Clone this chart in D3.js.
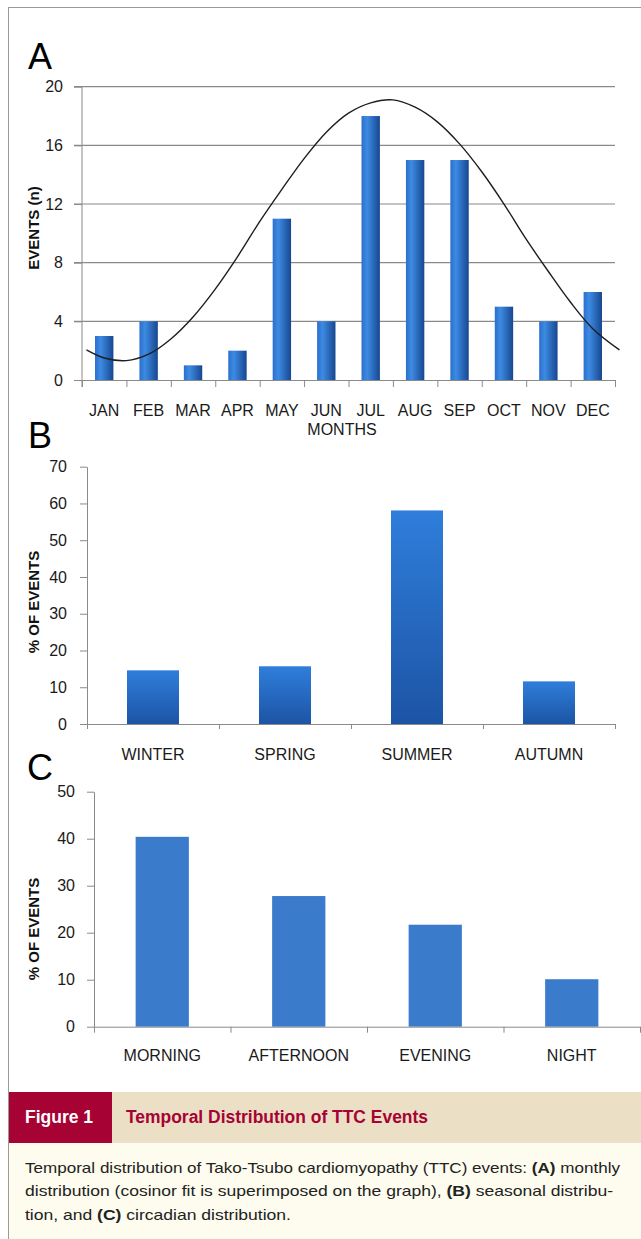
<!DOCTYPE html>
<html>
<head>
<meta charset="utf-8">
<script src="https://cdn.jsdelivr.net/npm/d3@7"></script>
<style>
  html, body { margin: 0; padding: 0; background: #fff; }
  svg { display: block; }
  text { font-family: "Liberation Sans", Arial, sans-serif; }
</style>
</head>
<body>
<svg id="fig" width="641" height="1239"></svg>
<script>
// ---------- DATA ----------
const monthLabels = ["JAN","FEB","MAR","APR","MAY","JUN","JUL","AUG","SEP","OCT","NOV","DEC"];
const monthEvents = [3, 4, 1, 2, 11, 4, 18, 15, 15, 5, 4, 6];
const yTicksA = [0, 4, 8, 12, 16, 20];
// cosinor fit curve (position in months from start of JAN, value)
const fitPos = [0.1, 0.5, 1, 1.5, 2, 2.5, 3, 3.5, 4, 4.5, 5, 5.5, 6, 6.5, 7, 7.5, 8, 8.5, 9, 9.5, 10, 10.5, 11, 11.5, 12.1];
const fitVal = [2.05, 1.5, 1.32, 1.76, 2.8, 4.3, 6.2, 8.4, 10.8, 13.0, 15.1, 16.9, 18.2, 18.9, 19.1, 18.6, 17.6, 16.1, 14.2, 12.0, 9.6, 7.4, 5.3, 3.5, 2.05];

const seasons = ["WINTER", "SPRING", "SUMMER", "AUTUMN"];
const seasonPct = [14.6, 15.7, 58.1, 11.6];
const yTicksB = [0, 10, 20, 30, 40, 50, 60, 70];

const dayParts = ["MORNING", "AFTERNOON", "EVENING", "NIGHT"];
const dayPartPct = [40.4, 27.8, 21.7, 10.1];
const yTicksC = [0, 10, 20, 30, 40, 50];

const captionLines = [
  [["Temporal distribution of Tako-Tsubo cardiomyopathy (TTC) events: ", false], ["(A)", true], [" monthly", false]],
  [["distribution (cosinor fit is superimposed on the graph), ", false], ["(B)", true], [" seasonal distribu-", false]],
  [["tion, and ", false], ["(C)", true], [" circadian distribution.", false]]
];

// ---------- DRAW ----------
const svg = d3.select("#fig");
const defs = svg.append("defs");

const gA = defs.append("linearGradient").attr("id", "gradA").attr("x1", "0").attr("x2", "1").attr("y1", "0").attr("y2", "0");
gA.append("stop").attr("offset", "0%").attr("stop-color", "#2b6fcc");
gA.append("stop").attr("offset", "30%").attr("stop-color", "#3d8be3");
gA.append("stop").attr("offset", "100%").attr("stop-color", "#174790");

const gB = defs.append("linearGradient").attr("id", "gradB").attr("x1", "0").attr("x2", "0").attr("y1", "0").attr("y2", "1");
gB.append("stop").attr("offset", "0%").attr("stop-color", "#2f7edb");
gB.append("stop").attr("offset", "100%").attr("stop-color", "#1c54a5");

// frame
svg.append("line").attr("x1", 8).attr("x2", 641).attr("y1", 7.5).attr("y2", 7.5).attr("stroke", "#9a9a9a");
svg.append("line").attr("x1", 8.5).attr("x2", 8.5).attr("y1", 7).attr("y2", 1239).attr("stroke", "#9a9a9a");

const axisColor = "#8a8a8a";
function styleAxis(g) {
  g.selectAll(".domain").attr("stroke", axisColor);
  g.selectAll(".tick line").attr("stroke", axisColor);
  g.selectAll("text").attr("font-size", 16).attr("fill", "#1a1a1a").attr("font-family", '"Liberation Sans", Arial, sans-serif');
}

// ===== Panel A =====
(function () {
  const L = 82, R = 615, T = 86.7, B = 380;
  const xLin = d3.scaleLinear().domain([0, 12]).range([L, R]);
  const xBand = d3.scaleBand().domain(monthLabels).range([L, R]).paddingInner(0.586).paddingOuter(0.293);
  const y = d3.scaleLinear().domain([0, 20]).range([B, T]);

  // gridlines
  svg.append("g").selectAll("line").data(yTicksA.filter(d => d > 0)).join("line")
    .attr("x1", L - 8).attr("x2", R).attr("y1", d => y(d)).attr("y2", d => y(d))
    .attr("stroke", axisColor).attr("stroke-width", 1.2);

  // y axis
  const ya = svg.append("g").attr("transform", `translate(${L},0)`)
    .call(d3.axisLeft(y).tickValues(yTicksA).tickSize(8).tickPadding(11).tickSizeOuter(0));
  styleAxis(ya);
  ya.select(".domain").attr("d", `M0,${T}V${B + 7}`);

  // bars
  svg.append("g").selectAll("rect").data(monthLabels).join("rect")
    .attr("x", d => xBand(d)).attr("width", xBand.bandwidth())
    .attr("y", (d, i) => y(monthEvents[i])).attr("height", (d, i) => y(0) - y(monthEvents[i]))
    .attr("fill", "url(#gradA)");

  // x axis ticks
  const xa = svg.append("g").attr("transform", `translate(0,${B})`)
    .call(d3.axisBottom(xLin).tickValues(d3.range(13)).tickFormat("").tickSize(7).tickSizeOuter(0));
  styleAxis(xa);
  xa.select(".domain").attr("stroke-width", 1.2);
  // x labels
  const xl = svg.append("g").attr("transform", `translate(0,${B})`)
    .call(d3.axisBottom(xBand).tickSize(0).tickPadding(25));
  styleAxis(xl);
  xl.select(".domain").remove();

  // fit curve
  const line = d3.line().x((d, i) => xLin(fitPos[i])).y((d, i) => y(fitVal[i])).curve(d3.curveCatmullRom);
  svg.append("path").datum(fitVal).attr("d", line).attr("fill", "none").attr("stroke", "#1e1e1e").attr("stroke-width", 1.4);

  svg.append("text").attr("x", 342).attr("y", 435).attr("text-anchor", "middle").attr("font-size", 16).attr("fill", "#1a1a1a").text("MONTHS");
  svg.append("text").attr("transform", `translate(39,228) rotate(-90)`).attr("text-anchor", "middle")
    .attr("font-size", 15).attr("font-weight", "bold").attr("fill", "#111").text("EVENTS (n)");
  svg.append("text").attr("x", 28).attr("y", 69).attr("font-size", 36).attr("fill", "#000").text("A");
})();

// ===== Panel B =====
(function () {
  const L = 87, R = 615, T = 466.7, B = 724;
  const xLin = d3.scaleLinear().domain([0, 4]).range([L, R]);
  const xBand = d3.scaleBand().domain(seasons).range([L, R]).paddingInner(0.606).paddingOuter(0.303);
  const y = d3.scaleLinear().domain([0, 70]).range([B, T]);

  const ya = svg.append("g").attr("transform", `translate(${L},0)`)
    .call(d3.axisLeft(y).tickValues(yTicksB).tickSize(7).tickPadding(13).tickSizeOuter(0));
  styleAxis(ya);

  svg.append("g").selectAll("rect").data(seasons).join("rect")
    .attr("x", d => xBand(d)).attr("width", xBand.bandwidth())
    .attr("y", (d, i) => y(seasonPct[i])).attr("height", (d, i) => y(0) - y(seasonPct[i]))
    .attr("fill", "url(#gradB)");

  const xa = svg.append("g").attr("transform", `translate(0,${B})`)
    .call(d3.axisBottom(xLin).tickValues(d3.range(5)).tickFormat("").tickSize(5).tickSizeOuter(0));
  styleAxis(xa);
  const xl = svg.append("g").attr("transform", `translate(0,${B})`)
    .call(d3.axisBottom(xBand).tickSize(0).tickPadding(25));
  styleAxis(xl);
  xl.select(".domain").remove();

  svg.append("text").attr("transform", `translate(39,602) rotate(-90)`).attr("text-anchor", "middle")
    .attr("font-size", 15).attr("font-weight", "bold").attr("fill", "#111").text("% OF EVENTS");
  svg.append("text").attr("x", 28).attr("y", 448).attr("font-size", 36).attr("fill", "#000").text("B");
})();

// ===== Panel C =====
(function () {
  const L = 94, R = 640, T = 791.7, B = 1026.7;
  const xLin = d3.scaleLinear().domain([0, 4]).range([L, R]);
  const xBand = d3.scaleBand().domain(dayParts).range([L, R]).paddingInner(0.61).paddingOuter(0.305);
  const y = d3.scaleLinear().domain([0, 50]).range([B, T]);

  const ya = svg.append("g").attr("transform", `translate(${L},0)`)
    .call(d3.axisLeft(y).tickValues(yTicksC).tickSize(7).tickPadding(12).tickSizeOuter(0));
  styleAxis(ya);

  svg.append("g").selectAll("rect").data(dayParts).join("rect")
    .attr("x", d => xBand(d)).attr("width", xBand.bandwidth())
    .attr("y", (d, i) => y(dayPartPct[i])).attr("height", (d, i) => y(0) - y(dayPartPct[i]))
    .attr("fill", "#3b7bcb");

  const xa = svg.append("g").attr("transform", `translate(0,${B})`)
    .call(d3.axisBottom(xLin).tickValues(d3.range(5)).tickFormat("").tickSize(6).tickSizeOuter(0));
  styleAxis(xa);
  const xl = svg.append("g").attr("transform", `translate(0,${B})`)
    .call(d3.axisBottom(xBand).tickSize(0).tickPadding(23));
  styleAxis(xl);
  xl.select(".domain").remove();

  svg.append("text").attr("transform", `translate(39,929) rotate(-90)`).attr("text-anchor", "middle")
    .attr("font-size", 15).attr("font-weight", "bold").attr("fill", "#111").text("% OF EVENTS");
  svg.append("text").attr("x", 27).attr("y", 780).attr("font-size", 36).attr("fill", "#000").text("C");
})();

// ===== Caption =====
svg.append("rect").attr("x", 9).attr("y", 1143).attr("width", 632).attr("height", 96).attr("fill", "#fdfcee");
svg.append("rect").attr("x", 9).attr("y", 1092).attr("width", 632).attr("height", 51).attr("fill", "#ebdfc6");
svg.append("rect").attr("x", 9).attr("y", 1092).attr("width", 103).attr("height", 51).attr("fill", "#a60233");
svg.append("text").attr("x", 25).attr("y", 1123).attr("font-size", 18).attr("font-weight", "bold").attr("fill", "#fff")
  .attr("textLength", 68).attr("lengthAdjust", "spacingAndGlyphs").text("Figure 1");
svg.append("text").attr("x", 126).attr("y", 1123).attr("font-size", 18).attr("font-weight", "bold").attr("fill", "#a60233")
  .attr("textLength", 302).attr("lengthAdjust", "spacingAndGlyphs").text("Temporal Distribution of TTC Events");

const capWidths = [595, 588, 266];
captionLines.forEach((parts, i) => {
  const t = svg.append("text").attr("x", 25).attr("y", 1173 + i * 23.4).attr("font-size", 15).attr("fill", "#222")
    .attr("textLength", capWidths[i]).attr("lengthAdjust", "spacingAndGlyphs");
  parts.forEach(p => t.append("tspan").attr("font-weight", p[1] ? "bold" : "normal").text(p[0]));
});
</script>
</body>
</html>
